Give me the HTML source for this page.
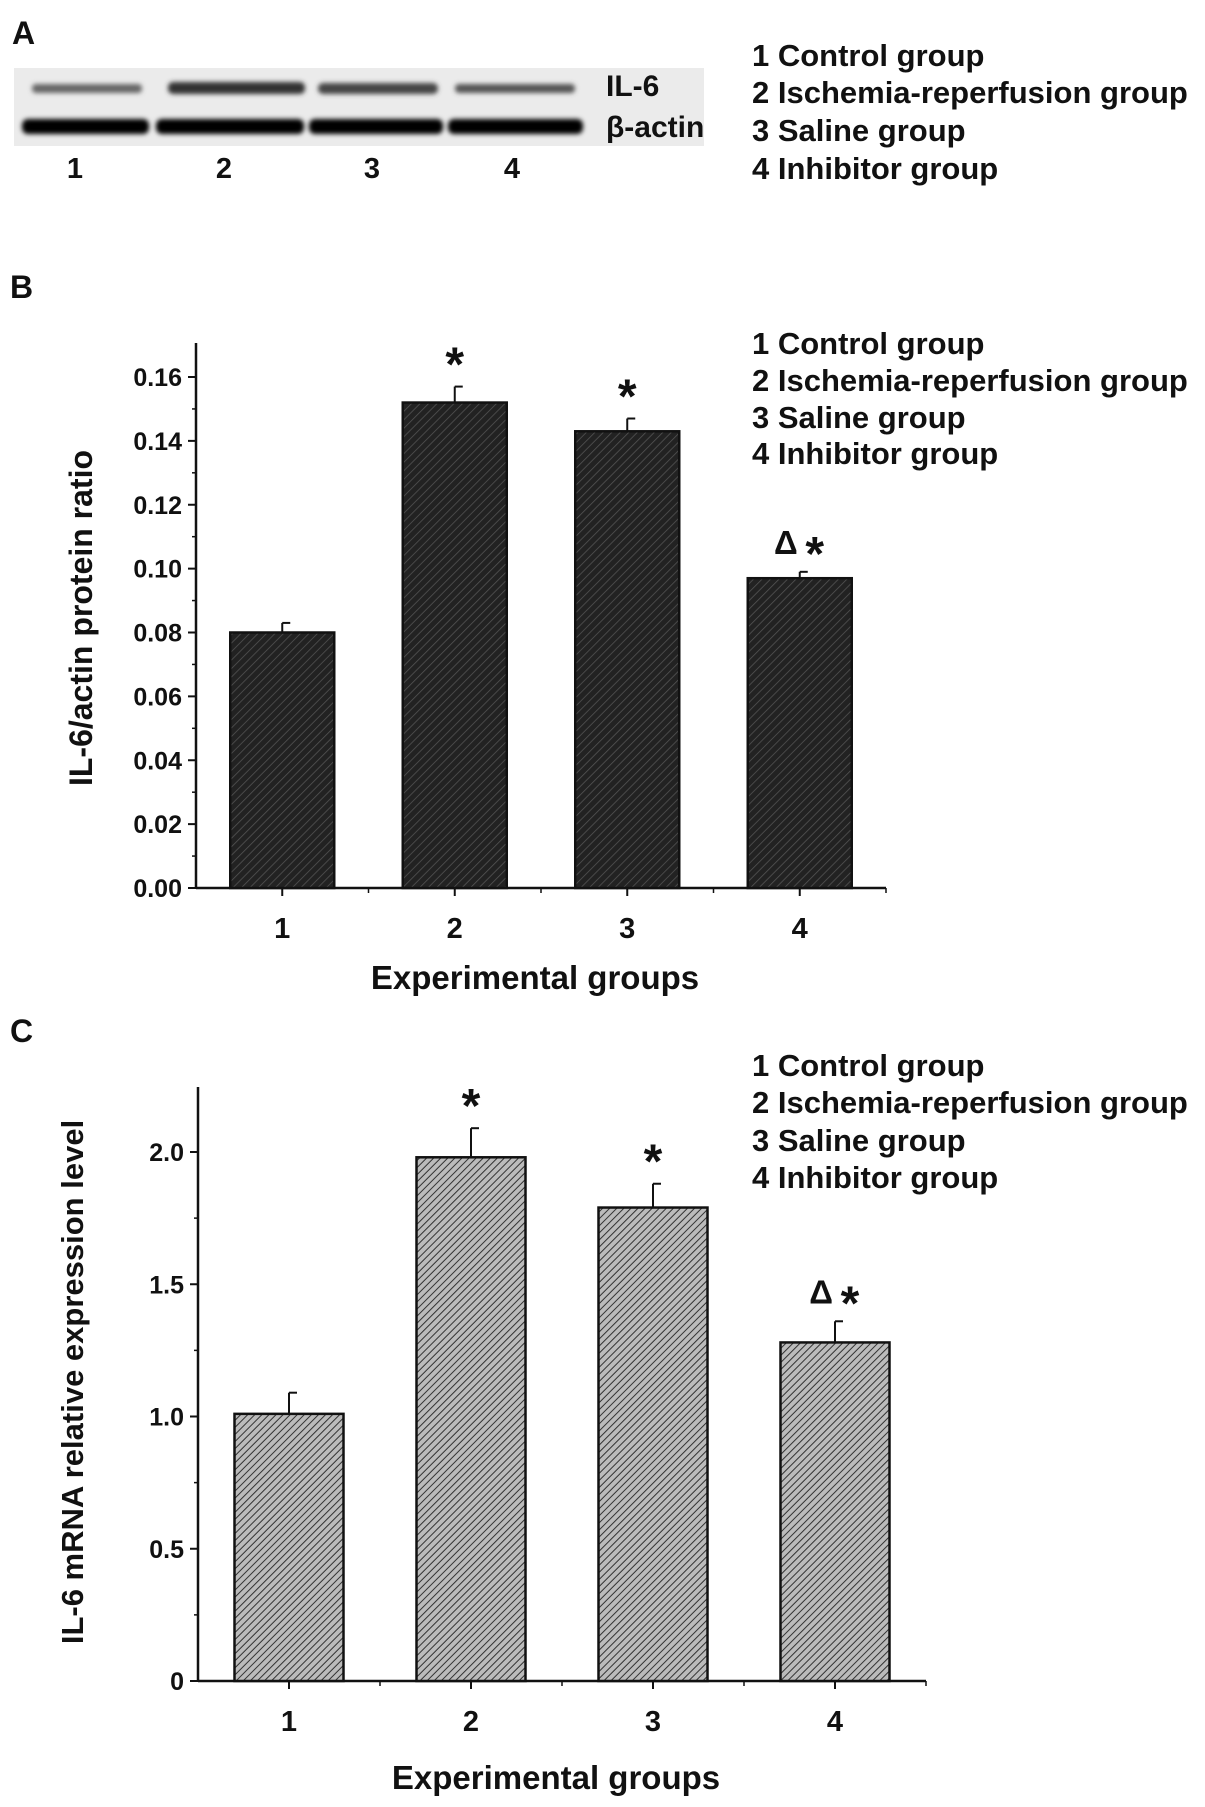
<!DOCTYPE html>
<html><head><meta charset="utf-8"><style>
html,body{margin:0;padding:0;background:#fff}
svg{display:block}
text{font-family:"Liberation Sans",Arial,sans-serif;font-weight:bold;fill:#111}
</style></head><body>
<svg id="fig" width="1205" height="1807" viewBox="0 0 1205 1807" xmlns="http://www.w3.org/2000/svg">
<defs>
<pattern id="hatchB" patternUnits="userSpaceOnUse" width="6" height="6" patternTransform="rotate(45)">
<rect width="6" height="6" fill="#222"/><line x1="0" y1="0" x2="0" y2="6" stroke="#555" stroke-width="1.5"/>
</pattern>
<pattern id="hatchC" patternUnits="userSpaceOnUse" width="5" height="5" patternTransform="rotate(45)">
<rect width="5" height="5" fill="#bbb"/><line x1="0" y1="0" x2="0" y2="5" stroke="#333" stroke-width="2"/>
</pattern>
<filter id="blur"><feGaussianBlur stdDeviation="2.5"/></filter>
</defs>

<!-- Panel A -->
<text x="12" y="44" font-size="32">A</text>
<g>
<rect x="14" y="68" width="690" height="78" fill="#ebebeb"/>
<g filter="url(#blur)">
<rect x="32" y="84" width="110" height="9" rx="4" fill="#666"/>
<rect x="168" y="82" width="137" height="12" rx="5" fill="#333"/>
<rect x="318" y="83" width="120" height="11" rx="5" fill="#444"/>
<rect x="455" y="84" width="120" height="9" rx="4" fill="#555"/>
<rect x="22" y="119" width="127" height="15" rx="6" fill="#000"/>
<rect x="156" y="119" width="148" height="15" rx="6" fill="#000"/>
<rect x="309" y="119" width="134" height="15" rx="6" fill="#000"/>
<rect x="448" y="119" width="135" height="15" rx="6" fill="#000"/>
</g>
</g>
<text x="606" y="96" font-size="30">IL-6</text>
<text x="606" y="137" font-size="30">β-actin</text>
<g font-size="29">
<text x="75" y="178" text-anchor="middle">1</text>
<text x="224" y="178" text-anchor="middle">2</text>
<text x="372" y="178" text-anchor="middle">3</text>
<text x="512" y="178" text-anchor="middle">4</text>
</g>
<g font-size="31">
<text x="752" y="66">1 Control group</text>
<text x="752" y="103">2 Ischemia-reperfusion group</text>
<text x="752" y="141">3 Saline group</text>
<text x="752" y="179">4 Inhibitor group</text>
</g>

<text x="10" y="298" font-size="32">B</text>
<g font-size="31">
<text x="752" y="354">1 Control group</text>
<text x="752" y="391">2 Ischemia-reperfusion group</text>
<text x="752" y="428">3 Saline group</text>
<text x="752" y="464">4 Inhibitor group</text>
</g>
<g id="chartB"></g>

<text x="10" y="1042" font-size="32">C</text>
<g font-size="31">
<text x="752" y="1076">1 Control group</text>
<text x="752" y="1113">2 Ischemia-reperfusion group</text>
<text x="752" y="1151">3 Saline group</text>
<text x="752" y="1188">4 Inhibitor group</text>
</g>
<g id="chartC"></g>
</svg>
<script>
const categories = ["1","2","3","4"];
const proteinValues = [0.080, 0.152, 0.143, 0.097];
const proteinErrors = [0.003, 0.005, 0.004, 0.002];
const proteinMarks = ["", "*", "*", "Δ*"];
const proteinTicks = [0, 0.02, 0.04, 0.06, 0.08, 0.10, 0.12, 0.14, 0.16];
const proteinTickLabels = ["0.00","0.02","0.04","0.06","0.08","0.10","0.12","0.14","0.16"];
const mrnaValues = [1.01, 1.98, 1.79, 1.28];
const mrnaErrors = [0.08, 0.11, 0.09, 0.08];
const mrnaMarks = ["", "*", "*", "Δ*"];
const mrnaTicks = [0, 0.5, 1.0, 1.5, 2.0];
const mrnaTickLabels = ["0","0.5","1.0","1.5","2.0"];

const NS = "http://www.w3.org/2000/svg";
function mk(parent, tag, attrs, txt){
  const e = document.createElementNS(NS, tag);
  for (const k in attrs) e.setAttribute(k, attrs[k]);
  if (txt !== undefined) e.textContent = txt;
  parent.appendChild(e);
  return e;
}
function drawChart(g, cfg){
  const y = v => cfg.y0 - (v - 0) / cfg.vmax * (cfg.y0 - cfg.yTop);
  const x = i => cfg.xStart + (i + 0.5) * cfg.band;
  const ya = mk(g, "line", {x1:cfg.ax, y1:cfg.axTop, x2:cfg.ax, y2:cfg.y0, stroke:"#111", "stroke-width":2.5});
  
  
  const xa = mk(g, "line", {x1:cfg.ax, y1:cfg.y0, x2:cfg.axRight, y2:cfg.y0, stroke:"#111", "stroke-width":2.5});
  
  
  cfg.ticks.forEach((t, i) => {
    mk(g, "line", {x1:cfg.ax - 8, y1:y(t), x2:cfg.ax, y2:y(t), stroke:"#111", "stroke-width":2});
    if (i < cfg.ticks.length - 1) {
      const m = (t + cfg.ticks[i+1]) / 2;
      mk(g, "line", {x1:cfg.ax - 4, y1:y(m), x2:cfg.ax, y2:y(m), stroke:"#111", "stroke-width":1.5});
    }
    const lb = mk(g, "text", {x:cfg.ax - 14, y:y(t) + 9, "font-size":25, "text-anchor":"end"}, cfg.tickLabels[i]);
    
    
  });
  categories.forEach((c, i) => {
    const cx = x(i);
    mk(g, "line", {x1:cx, y1:cfg.y0, x2:cx, y2:cfg.y0 + 8, stroke:"#111", "stroke-width":2});
    mk(g, "line", {x1:cx + cfg.band/2, y1:cfg.y0, x2:cx + cfg.band/2, y2:cfg.y0 + 5, stroke:"#111", "stroke-width":1.5});
    const v = cfg.values[i], e = cfg.errors[i];
    const eb = mk(g, "line", {x1:cx, y1:y(v), x2:cx, y2:y(v + e), stroke:"#111", "stroke-width":2});
    
    
    mk(g, "line", {x1:cx, y1:y(v + e), x2:cx + 8, y2:y(v + e), stroke:"#111", "stroke-width":2});
    const b = mk(g, "rect", {x:cx - cfg.bw/2, y:y(v), width:cfg.bw, height:cfg.y0 - y(v), fill:cfg.fill, stroke:"#111", "stroke-width":2.5});
    
    
    const tl = mk(g, "text", {x:cx, y:cfg.y0 + 50, "font-size":29, "text-anchor":"middle"}, c);
    
    
    const mark = cfg.marks[i];
    if (mark) {
      const top = y(v + e);
      if (mark.length > 1) {
        const d = mk(g, "text", {x:cx - 2, y:top - 18, "font-size":33, "text-anchor":"end"}, mark.slice(0, -1));
        
        
        const s = mk(g, "text", {x:cx + 15, y:top - 2, "font-size":48, "text-anchor":"middle"}, "*");
        
        
      } else {
        const s = mk(g, "text", {x:cx, y:top - 6, "font-size":48, "text-anchor":"middle"}, mark);
        
        
      }
    }
  });
  const xt = mk(g, "text", {x:(cfg.ax + cfg.axRight)/2 - 6, y:cfg.xTitleY, "font-size":33, "text-anchor":"middle"}, "Experimental groups");
  
  
  const yt = mk(g, "text", {x:0, y:0, "font-size":cfg.yTitleSize, "text-anchor":"middle", transform:"translate(" + cfg.yTitleX + "," + cfg.yTitleY + ") rotate(-90)"}, cfg.yTitle);
  
  
}
drawChart(document.getElementById("chartB"), {
  ax:196, axTop:343, axRight:886, y0:888, yTop:377, vmax:0.16, xStart:196, band:172.5, bw:104,
  values:proteinValues, errors:proteinErrors, marks:proteinMarks, ticks:proteinTicks, tickLabels:proteinTickLabels,
  fill:"url(#hatchB)", xTitleY:989, yTitleX:92, yTitleY:618, yTitleSize:32, yTitle:"IL-6/actin protein ratio"
});
drawChart(document.getElementById("chartC"), {
  ax:198, axTop:1087, axRight:926, y0:1681, yTop:1152, vmax:2.0, xStart:198, band:182, bw:109,
  values:mrnaValues, errors:mrnaErrors, marks:mrnaMarks, ticks:mrnaTicks, tickLabels:mrnaTickLabels,
  fill:"url(#hatchC)", xTitleY:1789, yTitleX:83, yTitleY:1382, yTitleSize:31, yTitle:"IL-6 mRNA relative expression level"
});
</script>
</body></html>
